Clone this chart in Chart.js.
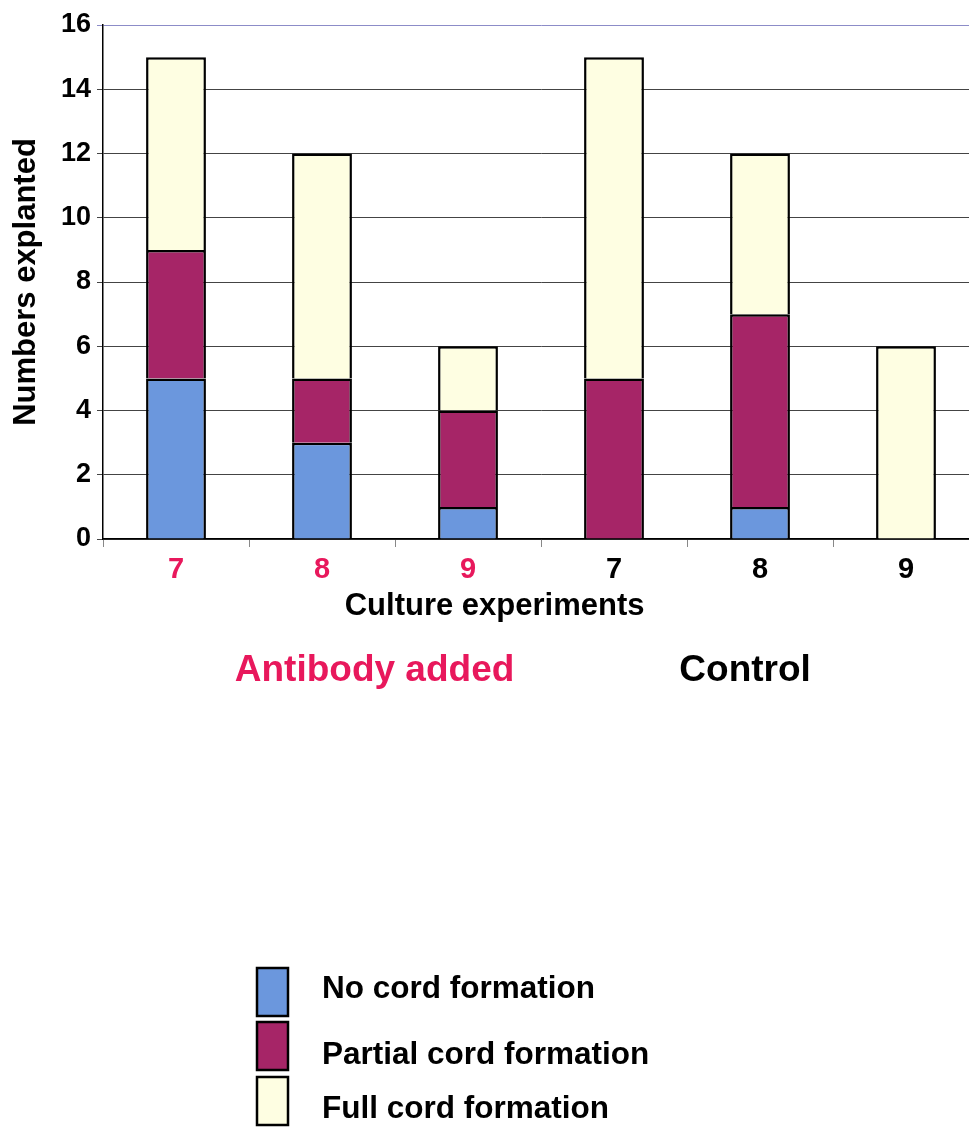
<!DOCTYPE html>
<html>
<head>
<meta charset="utf-8">
<script src="https://cdn.jsdelivr.net/npm/chart.js@4/dist/chart.umd.min.js"></script>
<style>
  html, body { margin: 0; padding: 0; background: #fff; overflow: hidden; }
  #wrap { position: relative; width: 990px; height: 1129px; }
</style>
</head>
<body>
<div id="wrap"><canvas id="cordChart" width="990" height="1129"></canvas></div>
<script>
// culture experiment numbers along the x axis
const experiments = ["7", "8", "9", "7", "8", "9"];
const labelColors = ["#e8185c", "#e8185c", "#e8185c", "#000000", "#000000", "#000000"];

// explants per outcome, stacked bottom to top
const noCord = [5, 3, 1, 0, 1, 0];
const partialCord = [4, 2, 3, 5, 6, 0];
const fullCord = [6, 7, 2, 10, 5, 6];

const yTicks = [0, 2, 4, 6, 8, 10, 12, 14, 16];

const FONT = "'Liberation Sans', Arial, sans-serif";

// group captions under the axis plus the stacked legend at the bottom
const extraText = {
    id: "extraText",
    afterDraw(chart) {
        const ctx = chart.ctx;
        const area = chart.chartArea;
        const w = area.right - area.left;
        ctx.save();
        ctx.textAlign = "center";
        ctx.textBaseline = "middle";

        ctx.fillStyle = "#000";
        ctx.font = "bold 31px " + FONT;
        ctx.fillText("Culture experiments", area.left + w * 0.447, 606);

        ctx.font = "bold 37px " + FONT;
        ctx.fillStyle = "#e8185c";
        ctx.fillText("Antibody added", area.left + w * 0.31, 671);
        ctx.fillStyle = "#000";
        ctx.fillText("Control", area.left + w * 0.733, 671);

        // legend boxes
        const boxTops = [968, 1022, 1077];
        const textY = [989, 1055, 1109];
        ctx.textAlign = "left";
        ctx.font = "bold 31.5px " + FONT;
        chart.data.datasets.forEach((ds, i) => {
            ctx.fillStyle = ds.backgroundColor;
            ctx.fillRect(257, boxTops[i], 31, 48);
            ctx.lineWidth = 2.5;
            ctx.strokeStyle = "#000";
            ctx.strokeRect(257, boxTops[i], 31, 48);
            ctx.fillStyle = "#000";
            ctx.fillText(ds.label, 322, textY[i]);
        });
        ctx.restore();
    }
};

const ctx = document.getElementById("cordChart").getContext("2d");

new Chart(ctx, {
    type: "bar",
    data: {
        labels: experiments,
        datasets: [
            {
                label: "No cord formation",
                data: noCord,
                backgroundColor: "#6b97dd"
            },
            {
                label: "Partial cord formation",
                data: partialCord,
                backgroundColor: "#a62567"
            },
            {
                label: "Full cord formation",
                data: fullCord,
                backgroundColor: "#fefee2"
            }
        ]
    },
    options: {
        responsive: false,
        animation: false,
        layout: {
            padding: { left: 0, top: 25, right: 11, bottom: 545 }
        },
        datasets: {
            bar: {
                borderColor: "#000",
                borderWidth: 2.5,
                borderSkipped: "start",
                inflateAmount: 0,
                categoryPercentage: 1,
                barPercentage: 0.41
            }
        },
        plugins: {
            legend: { display: false },
            tooltip: { enabled: false },
            title: { display: false }
        },
        scales: {
            x: {
                stacked: true,
                afterFit: scale => { scale.height = 45; },
                grid: {
                    offset: true,
                    drawOnChartArea: false,
                    drawTicks: true,
                    tickLength: 8,
                    color: "#888"
                },
                border: { display: true, color: "#000", width: 1.5 },
                ticks: {
                    padding: 6,
                    font: { family: FONT, size: 29, weight: "bold" },
                    color: c => labelColors[c.index]
                }
            },
            y: {
                stacked: true,
                min: 0,
                max: 16,
                afterFit: scale => { scale.width = 103; },
                afterBuildTicks: scale => {
                    scale.ticks = yTicks.map(v => ({ value: v }));
                },
                title: {
                    display: true,
                    text: "Numbers explanted",
                    font: { family: FONT, size: 31, weight: "bold" },
                    color: "#000",
                    padding: { top: 8, bottom: 0 }
                },
                grid: {
                    color: c => (c.tick && c.tick.value === 16 ? "#8c8cc8" : "#444"),
                    lineWidth: 1,
                    tickLength: 6
                },
                border: { display: true, color: "#000", width: 1.5 },
                ticks: {
                    padding: 6,
                    font: { family: FONT, size: 27, weight: "bold" },
                    color: "#000"
                }
            }
        }
    },
    plugins: [extraText]
});
</script>
</body>
</html>
